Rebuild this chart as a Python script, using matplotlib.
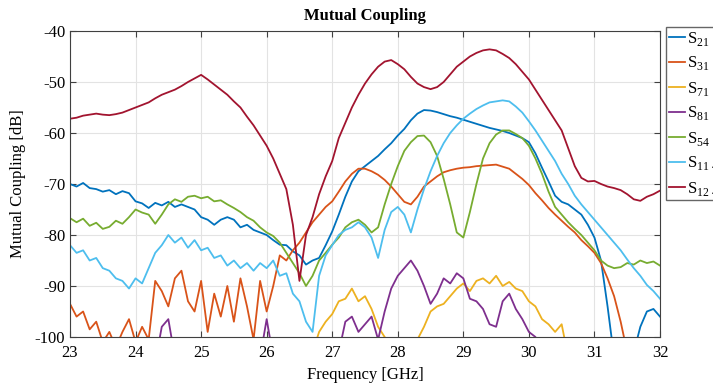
import numpy as np
import matplotlib.pyplot as plt

plt.rcParams['font.family'] = ['Liberation Serif', 'DejaVu Serif']
plt.rcParams['mathtext.fontset'] = 'custom'
plt.rcParams['mathtext.rm'] = 'Liberation Serif'
plt.rcParams['axes.unicode_minus'] = False

# frequency grid, 23..32 GHz in 0.1 GHz steps (91 points)
freq = np.round(np.arange(230, 321) / 10.0, 1)

s21 = [-70, -70.5, -69.8, -70.8, -71, -71.5, -71.2, -72, -71.4, -71.8,
       -73.4, -73.8, -74.7, -73.7, -74.2, -73.5, -74.5, -74, -74.5, -75,
       -76.5, -77, -78, -77, -76.5, -77, -78.5, -78, -79, -79.5,
       -80, -81, -81.9, -82, -83.2, -84, -85.8, -85, -84.5, -82,
       -79.3, -76, -72.5, -69.5, -67.5, -66.5, -65.5, -64.5, -63.2, -62,
       -60.5, -59.2, -57.5, -56.2, -55.5, -55.6, -55.9, -56.3, -56.7, -57,
       -57.4, -57.8, -58.2, -58.6, -59, -59.3, -59.6, -60, -60.5, -61,
       -61.8, -64, -66.8, -69.5, -72.3, -73.5, -74, -75, -76, -78,
       -80.5, -85, -94, -104, -106, -105, -103, -98, -95, -94.5, -96]

s31 = [-93.5, -96, -95, -98.5, -97, -101, -99, -102, -99, -96.5,
       -101, -98, -100.5, -89, -91, -94, -88.5, -87, -93, -95,
       -89, -99, -91.5, -96, -90, -97, -88.5, -94, -100.5, -89,
       -95, -90, -84, -85, -83, -81.5, -79.5, -77.5, -76, -74.5,
       -73.4, -71.5, -69.5, -68, -67, -67, -67.5, -68.2, -69.2, -70.5,
       -72, -73.5, -74, -72.5, -70.5, -69.5, -68.5, -67.7, -67.3, -67,
       -66.8, -66.7, -66.5, -66.4, -66.3, -66.2, -66.6, -67, -68, -69,
       -70.2, -71.8, -73.2, -74.7, -76, -77.2, -78.4, -79.5, -81, -82.2,
       -83.5, -85.5, -88.5, -92, -97, -103, -105, -106, -106, -106, -106]

s71 = [-105] * 37 + [
       -103, -99, -97, -95.5, -93, -92.5, -90.5, -93, -92, -94.5,
       -98, -100, -102, -100.5, -104, -103, -100.5, -98, -95, -94,
       -93.5, -92, -90.5, -89.5, -91, -89, -88.5, -89.5, -88, -90,
       -89.2, -90.5, -91, -93, -94, -96.5, -97.5, -99, -97.5, -104] + [-105] * 14

s81 = [-105, -105, -105, -105, -105, -105, -105, -105, -105, -105,
       -105, -105, -105, -105, -98, -96.5, -104, -105, -105, -105,
       -105, -105, -105, -105, -105, -105, -105, -105, -105, -104,
       -96.5, -104, -105, -105, -105, -105, -105, -105, -105, -105,
       -105, -103, -97, -96, -99, -97.5, -96, -100.5, -95, -90.5,
       -88, -86.5, -85, -87, -90, -93.5, -91.5, -88.5, -89.5, -87.5,
       -88.5, -92.5, -93, -94.5, -97.5, -98, -93, -91.5, -94.5, -96.5,
       -99, -100, -103] + [-105] * 18

s54 = [-76.7, -77.5, -76.8, -78.2, -77.6, -78.8, -78.4, -77.2, -77.8, -76.5,
       -75, -75.6, -76, -77.8, -76, -74, -73, -73.5, -72.5, -72.3,
       -72.8, -72.5, -73.4, -73.2, -74, -74.7, -75.5, -76.5, -77.2, -78.5,
       -79.5, -80.2, -81.5, -83.5, -85.5, -87.5, -90, -88, -85, -83.5,
       -81.9, -80.5, -78.5, -77.5, -77, -78, -79.5, -78.5, -74, -70,
       -66.5, -63.5, -61.8, -60.6, -60.5, -61.8, -64.5, -69, -74, -79.5,
       -80.5, -75.5, -70, -65, -62, -60.3, -59.5, -59.5, -60.2, -61,
       -62.5, -65, -68, -71.5, -74.5, -76, -77.5, -78.8, -80, -81.5,
       -83, -85, -86, -86.5, -86.3, -85.5, -85.8, -85, -85.5, -85.2, -86]

s114 = [-82, -83.5, -83, -85, -84.5, -86.5, -87, -88.5, -89, -90.5,
        -88.5, -89.5, -86.5, -83.5, -82, -80, -81.5, -80.5, -82.5, -81,
        -83, -82.5, -84.5, -84, -86, -85, -86.5, -85.5, -87, -85.5,
        -86.5, -85, -88, -87.5, -91.5, -93, -97, -99, -88, -84,
        -82, -80, -79, -78.5, -77.5, -78.5, -80.5, -84.5, -79, -75.5,
        -74.5, -76, -79.5, -75, -71, -67.5, -64.5, -62, -60, -58.5,
        -57.2, -56.2, -55.3, -54.6, -54, -53.8, -53.6, -53.8, -54.8, -56,
        -57.7, -59.5, -61.5, -63.5, -65.5, -68, -70, -72.3, -74, -75.5,
        -77, -78.5, -80, -81.5, -83, -84.8, -86.5, -88, -89.8, -91, -92.5]

s124 = [-57.2, -57, -56.6, -56.4, -56.2, -56.4, -56.5, -56.3, -56, -55.5,
        -55, -54.5, -54, -53.2, -52.5, -52, -51.5, -50.8, -50, -49.3,
        -48.6, -49.5, -50.5, -51.5, -52.5, -53.8, -55, -56.8, -58.5, -60.5,
        -62.5, -65, -68, -71, -78, -89, -80, -76.5, -72, -68.5,
        -65.5, -61, -58, -55, -52.5, -50.3, -48.5, -47, -46, -45.7,
        -46.5, -47.5, -49, -50.3, -51, -51.4, -51, -50, -48.5, -47,
        -46, -45, -44.3, -43.8, -43.6, -43.8, -44.5, -45.3, -46.5, -48,
        -49.5, -51.5, -53.5, -55.5, -57.5, -59.5, -63, -66.5, -68.8, -69.5,
        -69.4, -70, -70.5, -70.8, -71.2, -72, -73, -73.3, -72.5, -72, -71.3]

series = [s21, s31, s71, s81, s54, s114, s124]
labels = ['S$_{21}$', 'S$_{31}$', 'S$_{71}$', 'S$_{81}$', 'S$_{54}$',
          'S$_{11\\ 4}$', 'S$_{12\\ 4}$']
colors = ['#0072BD', '#D95319', '#EDB120', '#7E2F8E', '#77AC30', '#4DBEEE', '#A2142F']

fig = plt.figure(figsize=(7.13, 3.87), dpi=100)
ax = fig.add_axes([70 / 713, 50 / 387, 590 / 713, 306 / 387])

for y, lab, c in zip(series, labels, colors):
    ax.plot(freq, y, color=c, lw=1.3, label=lab)

ax.set_xlim(23, 32)
ax.set_ylim(-100, -40)
ax.set_xticks(range(23, 33))
ax.set_yticks(range(-100, -39, 10))
ax.grid(True, color='#e3e3e3', lw=0.8)
ax.tick_params(direction='in', top=True, right=True, labelsize=12, length=4,
               color='#404040')
ax.tick_params(axis='x', pad=6)
for sp in ax.spines.values():
    sp.set_color('#404040')
    sp.set_linewidth(0.8)

ax.set_title('Mutual Coupling', fontsize=12, fontweight='bold', pad=8)
ax.set_xlabel('Frequency [GHz]', fontsize=12, labelpad=4)
ax.set_ylabel('Mutual Coupling [dB]', fontsize=12, labelpad=6)

fig.legend(loc='upper left', bbox_to_anchor=(666 / 713, 1 - 27 / 387),
           fontsize=12, handlelength=1.0, handletextpad=0.1, borderpad=0.15,
           labelspacing=0.42, frameon=True, fancybox=False, edgecolor='#404040',
           borderaxespad=0)

fig.savefig('out.png', dpi=100)
